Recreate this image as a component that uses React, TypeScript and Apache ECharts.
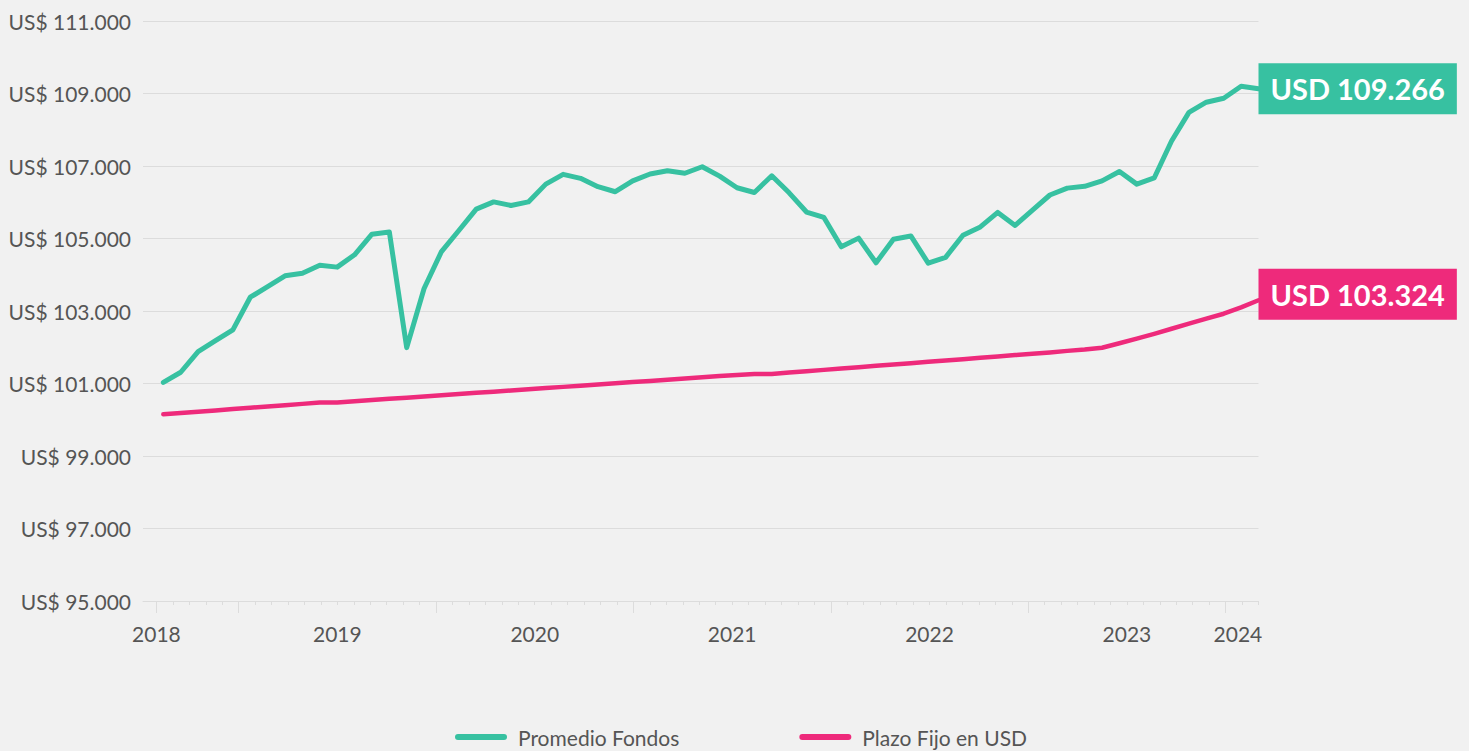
import React, { useEffect, useRef } from "react";
import * as echarts from "echarts";

const SERIES_NAMES = ["Promedio Fondos", "Plazo Fijo en USD"];
const END_LABELS = ["USD 109.266", "USD 103.324"];

const fondos = [
  101030, 101310, 101880, 102180, 102480, 103380, 103670, 103970, 104040, 104260,
  104210, 104550, 105120, 105180, 101990, 103620, 104640, 105220, 105810, 106010,
  105910, 106010, 106500, 106770, 106660, 106430, 106290, 106590, 106780, 106870,
  106800, 106980, 106720, 106400, 106270, 106730, 106260, 105730, 105580, 104770,
  105010, 104330, 104980, 105070, 104320, 104480, 105090, 105320, 105720, 105360,
  105780, 106200, 106390, 106440, 106590, 106850, 106500, 106670, 107690, 108480,
  108760, 108870, 109200, 109130,
];

const plazoFijo = [
  100150, 100186, 100222, 100258, 100294, 100330, 100366, 100402, 100438, 100474,
  100478, 100511, 100544, 100577, 100610, 100643, 100676, 100709, 100742, 100775,
  100808, 100841, 100874, 100907, 100940, 100973, 101006, 101039, 101072, 101105,
  101138, 101171, 101204, 101237, 101262, 101265, 101302, 101339, 101376, 101413,
  101450, 101487, 101524, 101561, 101598, 101635, 101672, 101709, 101746, 101783,
  101820, 101857, 101900, 101935, 101985, 102110, 102240, 102370, 102510, 102650,
  102790, 102925, 103100, 103296,
];

// x-axis (month scale) tick & label layout
const monthTicks = Array.from({ length: 68 }, (_, k) => k);
const majorTicks = [0, 5, 17, 29, 41, 53, 65];
const yearLabelPos = [0, 11, 23, 35, 47, 59, 65.75];
const yearLabels = ["2018", "2019", "2020", "2021", "2022", "2023", "2024"];

const GREEN = "#37c1a1";
const PINK = "#ee2a7b";
const TEXT = "#555555";
const GRID = "#dcdcdc";
const FONT = "Lato";
const FS = 21;

const fmt = (v: number) => "US$ " + String(v).replace(/\B(?=(\d{3})+(?!\d))/g, ".");

export default function App() {
  const ref = useRef<HTMLDivElement>(null);

  useEffect(() => {
    document.body.style.margin = "0";
    document.body.style.background = "#f1f1f1";
    const chart = echarts.init(ref.current!, null, { renderer: "svg" });
    const monthMin = -0.815;
    const monthMax = 67;
    chart.setOption({
      animation: false,
      backgroundColor: "#f1f1f1",
      textStyle: { fontFamily: FONT },
      grid: { left: 143, right: 210.5, top: 21, bottom: 150 },
      legend: {
        data: SERIES_NAMES,
        left: 450,
        top: 721,
        itemWidth: 52,
        itemHeight: 6,
        itemGap: 120,
        icon: "path://M3,0 H49 A3,3 0 0 1 49,6 H3 A3,3 0 0 1 3,0 Z",
        textStyle: { fontFamily: FONT, fontSize: FS, lineHeight: 22, color: TEXT, padding: [0, 0, 0, 6] },
      },
      xAxis: [
        {
          type: "value",
          min: -1.17,
          max: fondos.length - 1,
          show: false,
        },
        {
          type: "value",
          min: monthMin,
          max: monthMax,
          position: "bottom",
          axisLine: { show: true, lineStyle: { color: GRID, width: 1 } },
          axisTick: { show: true, customValues: monthTicks, length: 4, lineStyle: { color: GRID } },
          axisLabel: { show: false },
          splitLine: { show: false },
        },
        {
          type: "value",
          min: monthMin,
          max: monthMax,
          position: "bottom",
          axisLine: { show: false },
          axisTick: { show: true, customValues: majorTicks, length: 12, lineStyle: { color: GRID } },
          axisLabel: {
            show: true,
            customValues: yearLabelPos,
            formatter: (v: number) => {
              const idx = yearLabelPos.findIndex((p) => Math.abs(p - v) < 0.01);
              return idx >= 0 ? yearLabels[idx] : "";
            },
            fontFamily: FONT,
            fontSize: FS,
            color: TEXT,
            margin: 22,
          },
          splitLine: { show: false },
        },
      ],
      yAxis: {
        type: "value",
        min: 95000,
        max: 111000,
        interval: 2000,
        axisLine: { show: false },
        axisTick: { show: false },
        axisLabel: { formatter: fmt, fontFamily: FONT, fontSize: FS, color: TEXT, margin: 12 },
        splitLine: { lineStyle: { color: GRID, width: 1 } },
      },
      series: [
        {
          name: SERIES_NAMES[0],
          type: "line",
          xAxisIndex: 0,
          data: fondos.map((v, i) => [i, v]),
          showSymbol: false,
          symbol: "none",
          color: GREEN,
          lineStyle: { color: GREEN, width: 5, cap: "round", join: "round" },
          endLabel: {
            show: true,
            formatter: () => END_LABELS[0],
            backgroundColor: GREEN,
            color: "#ffffff",
            fontFamily: FONT,
            fontWeight: "bold",
            fontSize: 29,
            lineHeight: 35,
            padding: [8, 12, 8, 12],
            distance: 0,
          },
          z: 3,
        },
        {
          name: SERIES_NAMES[1],
          type: "line",
          xAxisIndex: 0,
          data: plazoFijo.map((v, i) => [i, v]),
          showSymbol: false,
          symbol: "none",
          color: PINK,
          lineStyle: { color: PINK, width: 4.5, cap: "round", join: "round" },
          endLabel: {
            show: true,
            formatter: () => END_LABELS[1],
            backgroundColor: PINK,
            color: "#ffffff",
            fontFamily: FONT,
            fontWeight: "bold",
            fontSize: 29,
            lineHeight: 35,
            padding: [8, 12, 8, 12],
            distance: 0,
            offset: [0, -6],
          },
          z: 2,
        },
      ],
    });
    return () => chart.dispose();
  }, []);

  return <div ref={ref} style={{ width: 1469, height: 751, background: "#f1f1f1" }} />;
}
